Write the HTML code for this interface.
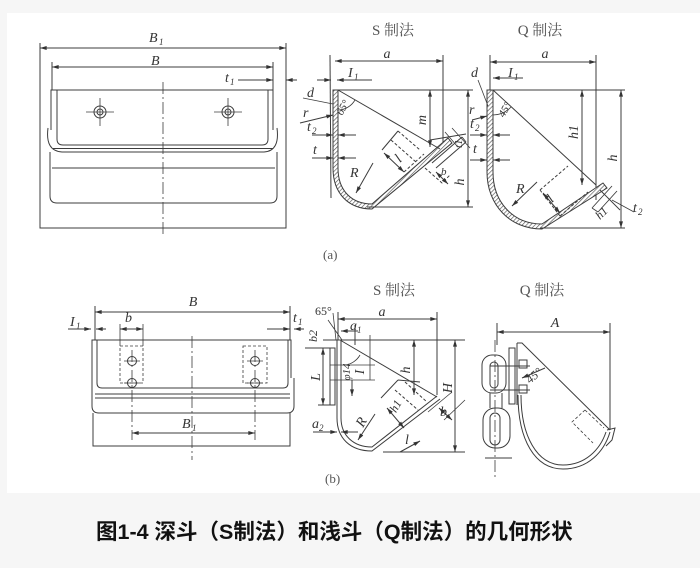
<!DOCTYPE html>
<html><head><meta charset="utf-8">
<style>
html,body{margin:0;padding:0;background:#f6f6f6;width:700px;height:568px;overflow:hidden}
svg{position:absolute;left:0;top:0}
.cap{position:absolute;left:96px;top:520px;line-height:24px;white-space:nowrap;font-weight:bold;font-size:21.5px;font-family:"Liberation Sans","Noto Sans CJK SC",sans-serif;color:#111}
</style></head><body>
<svg width="700" height="568" viewBox="0 0 700 568">
<defs>
<marker id="a" viewBox="0 0 10 6" refX="10" refY="3" markerWidth="9" markerHeight="4" markerUnits="userSpaceOnUse" orient="auto-start-reverse"><path d="M0 0L10 3L0 6z" fill="#333"/></marker>
<pattern id="h" width="3" height="3" patternUnits="userSpaceOnUse" patternTransform="rotate(45)"><rect width="3" height="3" fill="#fff"/><line x1="0" y1="0" x2="0" y2="3" stroke="#555" stroke-width="1.3"/></pattern>
<style>
.dm{marker-start:url(#a);marker-end:url(#a)}
.ae{marker-end:url(#a)}
.ds{stroke-dasharray:3 2}
.cl{stroke-dasharray:12 3 2 3}
text{font-family:"Liberation Serif",serif;font-style:italic;font-size:14px;fill:#333;stroke:none}
.s{font-size:9px}
.t{font-style:normal;font-family:"Liberation Serif","Noto Serif CJK SC",serif;font-size:15px;fill:#555}
</style>
</defs>
<rect x="7" y="13" width="693" height="480" fill="#fff"/>
<g fill="none" stroke="#3c3c3c" stroke-width="1">
<!-- ===== Front view (a) ===== -->
<path d="M40 43V228H286V43"/>
<line class="dm" x1="40" y1="48" x2="286" y2="48"/>
<line class="dm" x1="52" y1="67" x2="273" y2="67"/>
<path d="M52 62V90M273 62V90"/>
<line class="ae" x1="238" y1="80" x2="273" y2="80"/>
<line class="ae" x1="297" y1="80" x2="286" y2="80"/>
<path d="M51 130V90H273V130"/>
<path d="M57 90V139Q57 145 63 145H262Q268 145 268 139V90"/>
<path d="M53 148.5H273"/>
<path d="M48 128Q45 151 62 152H264Q280 151 277 128"/>
<path d="M50 152V196Q50 203 57 203H270Q277 203 277 196V152"/>
<path d="M52 168H275"/>
<circle cx="100" cy="112" r="6"/><circle cx="100" cy="112" r="3"/>
<circle cx="228" cy="112" r="6"/><circle cx="228" cy="112" r="3"/>
<path d="M86 112H114M100 98V126M214 112H242M228 98V126" stroke-width=".8"/>
<path class="cl" d="M163 82V237" stroke-width=".8"/>

<!-- ===== S view (a) ===== -->
<path d="M330 55L331 198"/>
<line class="dm" x1="335" y1="61" x2="443" y2="61"/>
<path d="M443 55V143"/>
<line class="ae" x1="317" y1="80" x2="331" y2="80"/>
<line class="ae" x1="372" y1="80" x2="337" y2="80"/>
<path d="M338 90H473"/>
<path d="M333 90V168C333 193 348 209 372 209L452 143L448 138L372 204C352 204 338 191 338 168V90Z" fill="url(#h)"/>
<path d="M338 90L440 149"/>
<path d="M430 140L466 134M432 163L462 137M436 168L466 142M462 137L466 142"/>
<path d="M445 132L457 146M452 128L470 148" stroke-width=".8"/>
<line class="dm" x1="430" y1="90" x2="430" y2="147"/>
<line class="dm" x1="468" y1="90" x2="468" y2="207"/>
<path d="M367 207H473"/>
<path d="M338 110A20 20 0 0 0 355 100" stroke-width=".8"/>
<path d="M303 98L333 104" stroke-width=".8"/>
<line class="ae" x1="300" y1="123" x2="333" y2="115"/>
<line class="ae" x1="312" y1="135" x2="333" y2="135"/>
<line class="ae" x1="356" y1="135" x2="338" y2="135"/>
<line class="ae" x1="312" y1="158" x2="333" y2="158"/>
<line class="ae" x1="356" y1="158" x2="338" y2="158"/>
<line class="ae" x1="373" y1="163" x2="356" y2="193"/>
<path d="M382 150L398 131"/>
<path class="ds" d="M398 131L420 150M391 140L416 162"/>
<line class="dm" x1="384" y1="153" x2="404" y2="172"/>
<path class="ds" d="M404 172L424 154M425 168L442 183L450 175"/>
<line class="dm" x1="436" y1="172" x2="448" y2="184"/>

<!-- ===== Q view (a) ===== -->
<line class="dm" x1="490" y1="62" x2="596" y2="62"/>
<path d="M490 55V90M596 55V200"/>
<line class="ae" x1="523" y1="78" x2="493" y2="78"/>
<path d="M490 90H625"/>
<path d="M487 90V172C487 205 510 229 542 229L607 188L603 183L542 224C513 224 493 202 493 172V90Z" fill="url(#h)"/>
<path d="M493 90L596 185"/>
<line class="dm" x1="582" y1="90" x2="582" y2="185"/>
<line class="dm" x1="621" y1="90" x2="621" y2="228"/>
<path d="M540 228H625"/>
<path d="M493 115A25 25 0 0 0 511 107" stroke-width=".8"/>
<path d="M478 80L488 106" stroke-width=".8"/>
<line class="ae" x1="472" y1="120" x2="487" y2="116"/>
<line class="ae" x1="470" y1="135" x2="487" y2="135"/>
<line class="ae" x1="510" y1="135" x2="493" y2="135"/>
<line class="ae" x1="470" y1="160" x2="487" y2="160"/>
<line class="ae" x1="510" y1="160" x2="493" y2="160"/>
<line class="ae" x1="537" y1="182" x2="512" y2="206"/>
<path class="ds" d="M540 190L568 166M560 216L588 192M540 190L560 216"/>
<line class="dm" x1="543" y1="193" x2="560" y2="213"/>
<path d="M592 208L612 186M598 212L617 191M592 208L598 212M600 190L620 210" stroke-width=".9"/>
<path d="M612 200L634 212" stroke-width=".8"/>
<text x="323" y="259" style="font-style:normal;font-size:13px;fill:#555">(a)</text>

<!-- ===== Front view (b) ===== -->
<line class="dm" x1="95" y1="312" x2="290" y2="312"/>
<path d="M95 306V340M290 306V340"/>
<line class="ae" x1="68" y1="329" x2="91" y2="329"/>
<line class="ae" x1="106" y1="329" x2="96" y2="329"/>
<line class="dm" x1="120" y1="329" x2="143" y2="329"/>
<path d="M120 324V346M143 324V346" stroke-width=".8"/>
<line class="ae" x1="267" y1="329" x2="290" y2="329"/>
<line class="ae" x1="304" y1="329" x2="294" y2="329"/>
<path d="M92 393V340H291V378"/>
<path d="M97 340V383Q97 388 102 388H283Q288 388 288 383V340"/>
<path d="M92 378V406Q92 413 99 413H287Q294 413 294 406V378"/>
<path d="M95 394H290M95 398H290"/>
<path d="M93 413V446H290V413"/>
<path class="ds" d="M120 346H143V383H120ZM243 346H267V383H243Z" stroke-width=".8"/>
<circle cx="132" cy="361" r="4.5"/><circle cx="132" cy="383" r="4.5"/>
<circle cx="255" cy="361" r="4.5"/><circle cx="255" cy="383" r="4.5"/>
<path d="M124 361H140M124 383H140M247 361H263M247 383H263" stroke-width=".7"/>
<path class="cl" d="M132 350V440M255 350V440" stroke-width=".8"/>
<line class="dm" x1="132" y1="433" x2="255" y2="433"/>
<path class="cl" d="M192 336V460" stroke-width=".8"/>

<!-- ===== S view (b) ===== -->
<path d="M328 320L342 340M333 313L336 340" stroke-width=".8"/>
<line class="dm" x1="338" y1="319" x2="437" y2="319"/>
<path d="M338 312V340M437 312V395"/>
<line class="ae" x1="358" y1="331" x2="341" y2="331"/>
<path d="M355 325V345M323 340H465M305 348H332M318 405H332"/>
<rect x="330" y="348" width="5" height="57"/>
<path d="M337 340V418C337 438 350 451 372 451L440 399"/>
<path d="M341 340V418C341 435 353 447 372 447L437 396"/>
<path d="M340 340L437 397"/>
<line class="dm" x1="323" y1="348" x2="323" y2="405"/>
<line class="dm" x1="414" y1="340" x2="414" y2="395"/>
<line class="dm" x1="455" y1="340" x2="455" y2="452"/>
<path d="M383 452H465"/>
<path d="M370 335V380M330 365H375M330 380H375" stroke-width=".8"/>
<path d="M345 365A20 20 0 0 0 360 355" stroke-width=".8"/>
<line class="ae" x1="352" y1="380" x2="352" y2="396"/>
<line class="ae" x1="313" y1="432" x2="337" y2="432"/>
<line class="ae" x1="358" y1="432" x2="341" y2="432"/>
<line class="ae" x1="375" y1="414" x2="358" y2="440"/>
<path d="M398 380L420 382M381 398L398 380"/>
<path class="ds" d="M395 390L418 410M405 382L427 402"/>
<line class="dm" x1="387" y1="408" x2="404" y2="428"/>
<path d="M428 412L452 392M444 420L465 400" stroke-width=".8"/>
<line class="dm" x1="439" y1="408" x2="452" y2="420"/>
<line class="ae" x1="400" y1="452" x2="420" y2="441"/>
<text x="325" y="483" style="font-style:normal;font-size:13px;fill:#555">(b)</text>

<!-- ===== Q view (b) ===== -->
<line class="dm" x1="497" y1="332" x2="610" y2="332"/>
<path d="M497 323V345M610 323V430"/>
<rect x="509" y="348" width="6" height="56"/>
<path d="M517 343V405M517 343H522L610 430"/>
<path d="M518 395C518 440 535 469 563 469C588 469 604 452 610 432"/>
<path d="M521 395C521 436 537 465 563 465C585 465 600 450 606 432"/>
<path d="M607 430L615 428L612 440L606 446"/>
<path class="ds" d="M585 410L572 422L593 443M585 410L604 428" stroke-width=".8"/>
<rect x="482" y="355" width="24" height="38" rx="10"/>
<rect x="490" y="362" width="8" height="26" rx="4"/>
<rect x="483" y="408" width="27" height="40" rx="12"/>
<rect x="490" y="413" width="10" height="32" rx="5"/>
<path d="M490 393V408M502 393V408"/>
<path d="M490 366H530M490 390H530"/>
<path d="M519 360h8v8h-8zM519 385h8v8h-8z"/>
<path class="cl" d="M495 340V478" stroke-width=".8"/>
<path d="M485 458H512"/>
<line class="ae" x1="545" y1="368" x2="522" y2="378"/>
</g>

<!-- ===== Text labels ===== -->
<text x="149" y="42">B</text><text class="s" x="159" y="45">1</text>
<text x="151" y="65">B</text>
<text x="225" y="82">t</text><text class="s" x="230" y="85">1</text>

<text class="t" x="393" y="35" text-anchor="middle">S 制法</text>
<text class="t" x="540" y="35" text-anchor="middle">Q 制法</text>
<text x="387" y="58" text-anchor="middle">a</text>
<text x="348" y="77">I</text><text class="s" x="354" y="80">1</text>
<text x="307" y="97">d</text>
<text x="303" y="117">r</text>
<text x="307" y="131">t</text><text class="s" x="312" y="134">2</text>
<text x="313" y="154">t</text>
<text x="342" y="116" style="font-size:11px" transform="rotate(-60 342 116)">65°</text>
<text x="426" y="120" text-anchor="middle" transform="rotate(-90 426 120)">m</text>
<text x="464" y="182" text-anchor="middle" transform="rotate(-90 464 182)">h</text>
<text x="350" y="177">R</text>
<text x="400" y="163" transform="rotate(-45 400 163)">l</text>
<text x="462" y="148" style="font-size:11px" transform="rotate(-90 462 148)">t1</text>
<text x="441" y="175" style="font-size:11px">b</text>

<text x="545" y="58" text-anchor="middle">a</text>
<text x="508" y="77">I</text><text class="s" x="514" y="80">1</text>
<text x="471" y="77">d</text>
<text x="469" y="114">r</text>
<text x="470" y="128">t</text><text class="s" x="475" y="131">2</text>
<text x="473" y="153">t</text>
<text x="504" y="118" style="font-size:11px" transform="rotate(-60 504 118)">45°</text>
<text x="578" y="132" text-anchor="middle" transform="rotate(-90 578 132)">h1</text>
<text x="617" y="158" text-anchor="middle" transform="rotate(-90 617 158)">h</text>
<text x="516" y="193">R</text>
<text x="552" y="203" transform="rotate(-45 552 203)">l</text>
<text x="600" y="220" style="font-size:12px" transform="rotate(-45 600 220)">h1</text>
<text x="633" y="212">t</text><text class="s" x="638" y="215">2</text>

<text x="193" y="306" text-anchor="middle">B</text>
<text x="70" y="326">I</text><text class="s" x="76" y="329">1</text>
<text x="125" y="322">b</text>
<text x="293" y="322">t</text><text class="s" x="298" y="325">1</text>
<text x="182" y="428">B</text><text class="s" x="192" y="431">1</text>

<text class="t" x="394" y="295" text-anchor="middle">S 制法</text>
<text x="315" y="315" style="font-style:normal;font-size:12px">65°</text>
<text x="382" y="316" text-anchor="middle">a</text>
<text x="350" y="330">a</text><text class="s" x="357" y="333">1</text>
<text x="317" y="336" style="font-size:12px" text-anchor="middle" transform="rotate(-90 317 336)">b2</text>
<text x="320" y="377" text-anchor="middle" transform="rotate(-90 320 377)">L</text>
<text x="350" y="372" style="font-size:11px" text-anchor="middle" transform="rotate(-90 350 372)">φ14</text>
<text x="364" y="372" text-anchor="middle" transform="rotate(-90 364 372)">I</text>
<text x="410" y="370" text-anchor="middle" transform="rotate(-90 410 370)">h</text>
<text x="452" y="388" text-anchor="middle" transform="rotate(-90 452 388)">H</text>
<text x="399" y="408" style="font-size:12px" text-anchor="middle" transform="rotate(-60 399 408)">h1</text>
<text x="440" y="416">b</text>
<text x="363" y="428" transform="rotate(-60 363 428)">R</text>
<text x="405" y="444">l</text>
<text x="312" y="428">a</text><text class="s" x="319" y="431">2</text>

<text class="t" x="542" y="295" text-anchor="middle">Q 制法</text>
<text x="555" y="327" text-anchor="middle">A</text>
<text x="530" y="384" style="font-size:12px" transform="rotate(-40 530 384)">45°</text>
</svg>
<div class="cap">图1-4 深斗（S制法）和浅斗（Q制法）的几何形状</div>
</body></html>
